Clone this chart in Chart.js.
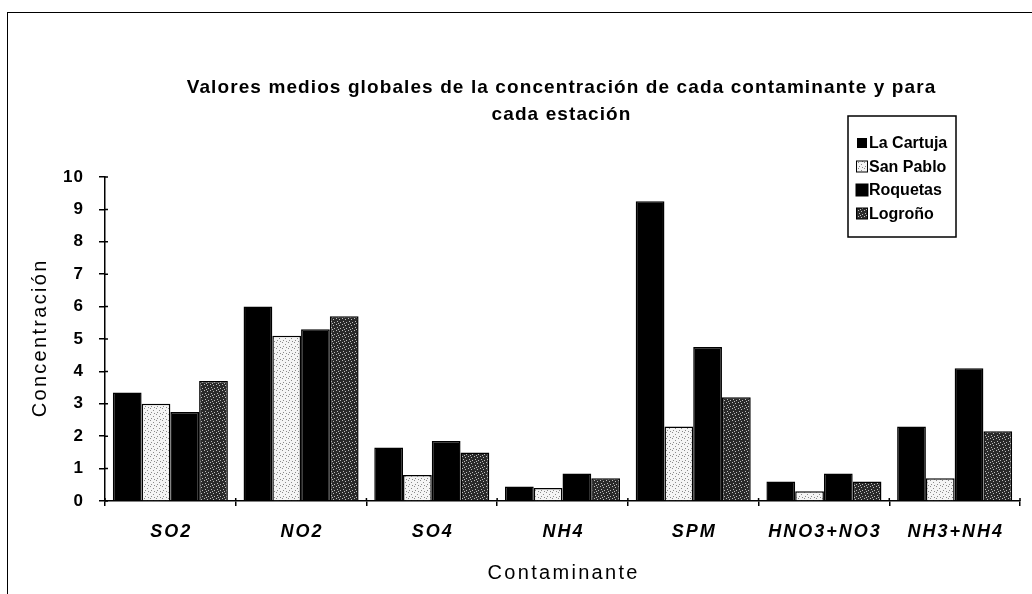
<!DOCTYPE html>
<html>
<head>
<meta charset="utf-8">
<script src="https://cdn.jsdelivr.net/npm/chart.js@4.4.0/dist/chart.umd.min.js"></script>
<style>
  html, body { margin: 0; padding: 0; background: #fff; }
  #wrap { position: relative; width: 1032px; height: 594px; overflow: hidden; }
  #frame { position: absolute; left: 7px; top: 12px; width: 1040px; height: 600px; border: 1px solid #000; box-sizing: border-box; }
  canvas { position: absolute; left: 0; top: 0; }
</style>
</head>
<body>
<div id="wrap">
  <div id="frame"></div>
  <canvas id="c" width="1032" height="594"></canvas>
</div>
<script>
// ---- data ----
const categories = ["SO2", "NO2", "SO4", "NH4", "SPM", "HNO3+NO3", "NH3+NH4"];
const seriesNames = ["La Cartuja", "San Pablo", "Roquetas", "Logroño"];
const laCartuja = [3.35, 6.0, 1.65, 0.45, 9.25, 0.6, 2.3];
const sanPablo  = [3.0, 5.1, 0.8, 0.4, 2.3, 0.3, 0.7];
const roquetas  = [2.75, 5.3, 1.85, 0.85, 4.75, 0.85, 4.1];
const logrono   = [3.7, 5.7, 1.5, 0.7, 3.2, 0.6, 2.15];
const yTicks = [0, 1, 2, 3, 4, 5, 6, 7, 8, 9, 10];
const titleLines = ["Valores medios globales de la concentración de cada contaminante y para", "cada estación"];
const yTitle = "Concentración";
const xTitle = "Contaminante";

// ---- fill patterns ----
function makePattern(bg, dot, spots) {
  const t = document.createElement('canvas');
  t.width = 6; t.height = 6;
  const g = t.getContext('2d');
  g.fillStyle = bg; g.fillRect(0, 0, 6, 6);
  g.fillStyle = dot;
  spots.forEach(([x, y]) => g.fillRect(x, y, 1, 1));
  return g.createPattern(t, 'repeat');
}
const ctx = document.getElementById('c').getContext('2d');
const lightPat = makePattern('#f4f4f4', '#8a8a8a', [[0,0],[3,2],[1,4],[4,5]]);
const darkPat = makePattern('#2a2a2a', '#bdbdbd', [[0,0],[3,1],[1,3],[4,4],[2,5]]);
const fills = ['#000000', lightPat, '#000000', darkPat];
const series = [laCartuja, sanPablo, roquetas, logrono];

const FONT = "'Liberation Sans', Arial, sans-serif";

function spacedText(c, text, x, y, ls, align) {
  c.letterSpacing = ls + 'px';
  c.textAlign = align;
  let dx = 0;
  if (align === 'center') dx = ls / 2;
  else if (align === 'right') dx = ls;
  c.fillText(text, x + dx, y);
  c.letterSpacing = '0px';
}

// ---- plugins ----
const textPlugin = {
  id: 'texts',
  afterDraw(chart) {
    const c = chart.ctx;
    const ys = chart.scales.y, xs = chart.scales.x;
    const area = chart.chartArea;
    c.save();
    c.fillStyle = '#000';
    c.textBaseline = 'middle';
    // title
    c.font = "bold 19px " + FONT;
    spacedText(c, titleLines[0], 561, 88, 1.1, 'center');
    spacedText(c, titleLines[1], 561, 115, 1.1, 'center');
    // y tick labels
    c.font = "bold 17px " + FONT;
    ys.ticks.forEach((t, i) => {
      spacedText(c, String(t.value), area.left - 22, ys.getPixelForTick(i), 1, 'right');
    });
    // x tick labels
    c.font = "italic bold 18px " + FONT;
    categories.forEach((lab, i) => {
      spacedText(c, lab, xs.getPixelForTick(i), 532, 2.0, 'center');
    });
    // axis titles
    c.font = "20px " + FONT;
    spacedText(c, xTitle, (area.left + area.right) / 2, 573, 2.3, 'center');
    c.save();
    c.translate(40, (area.top + area.bottom) / 2);
    c.rotate(-Math.PI / 2);
    spacedText(c, yTitle, 0, 0, 2.3, 'center');
    c.restore();
    c.restore();
  }
};

const legendPlugin = {
  id: 'boxLegend',
  afterDraw(chart) {
    const c = chart.ctx;
    const x0 = 848, y0 = 116, w = 108, h = 121;
    c.save();
    c.fillStyle = '#fff';
    c.fillRect(x0, y0, w, h);
    c.strokeStyle = '#000';
    c.lineWidth = 1.5;
    c.strokeRect(x0, y0, w, h);
    c.font = "bold 16px " + FONT;
    c.textBaseline = 'middle';
    c.textAlign = 'left';
    const sizes = [9, 11, 12, 11];
    chart.data.datasets.forEach((ds, i) => {
      const cy = 143 + i * 23.5;
      const s = sizes[i];
      const mx = 862 - s / 2;
      c.fillStyle = ds.backgroundColor;
      c.fillRect(mx, cy - s / 2, s, s);
      c.lineWidth = 1;
      c.strokeStyle = '#000';
      c.strokeRect(mx, cy - s / 2, s, s);
      c.fillStyle = '#000';
      c.fillText(ds.label, 869, cy + 1);
    });
    c.restore();
  }
};

const innerTicks = {
  id: 'innerTicks',
  afterDraw(chart) {
    const c = chart.ctx;
    const y = chart.scales.y, x = chart.scales.x;
    c.save();
    c.strokeStyle = '#000';
    c.lineWidth = 1.5;
    c.beginPath();
    yTicks.forEach(v => {
      const py = y.getPixelForValue(v);
      c.moveTo(chart.chartArea.left, py);
      c.lineTo(chart.chartArea.left + 3, py);
    });
    for (let i = 0; i <= categories.length; i++) {
      const px = x.getPixelForValue(i - 0.5);
      c.moveTo(px, chart.chartArea.bottom);
      c.lineTo(px, chart.chartArea.bottom - 3);
    }
    c.stroke();
    c.restore();
  }
};

new Chart(ctx, {
  type: 'bar',
  data: {
    labels: categories,
    datasets: series.map((d, i) => ({
      label: seriesNames[i],
      data: d,
      backgroundColor: fills[i],
      borderColor: '#000',
      borderWidth: 1.5,
      categoryPercentage: 0.88,
      barPercentage: 1.0
    }))
  },
  options: {
    responsive: false,
    animation: false,
    devicePixelRatio: 1,
    layout: { padding: { left: 31, top: 177, right: 12, bottom: 12 } },
    plugins: { legend: { display: false }, title: { display: false }, tooltip: { enabled: false } },
    scales: {
      y: {
        min: 0, max: 10,
        afterFit(s) { s.width = 74; },
        afterBuildTicks(s) { s.ticks = yTicks.map(v => ({ value: v })); },
        ticks: { display: false },
        grid: { drawOnChartArea: false, drawTicks: true, tickLength: 6, color: '#000', lineWidth: 1.5 },
        border: { color: '#000', width: 1.5 }
      },
      x: {
        afterFit(s) { s.height = 81; },
        ticks: { display: false },
        grid: { drawOnChartArea: false, drawTicks: true, tickLength: 5, color: '#000', lineWidth: 1.5, offset: true },
        border: { color: '#000', width: 1.5 }
      }
    }
  },
  plugins: [textPlugin, legendPlugin, innerTicks]
});
</script>
</body>
</html>
